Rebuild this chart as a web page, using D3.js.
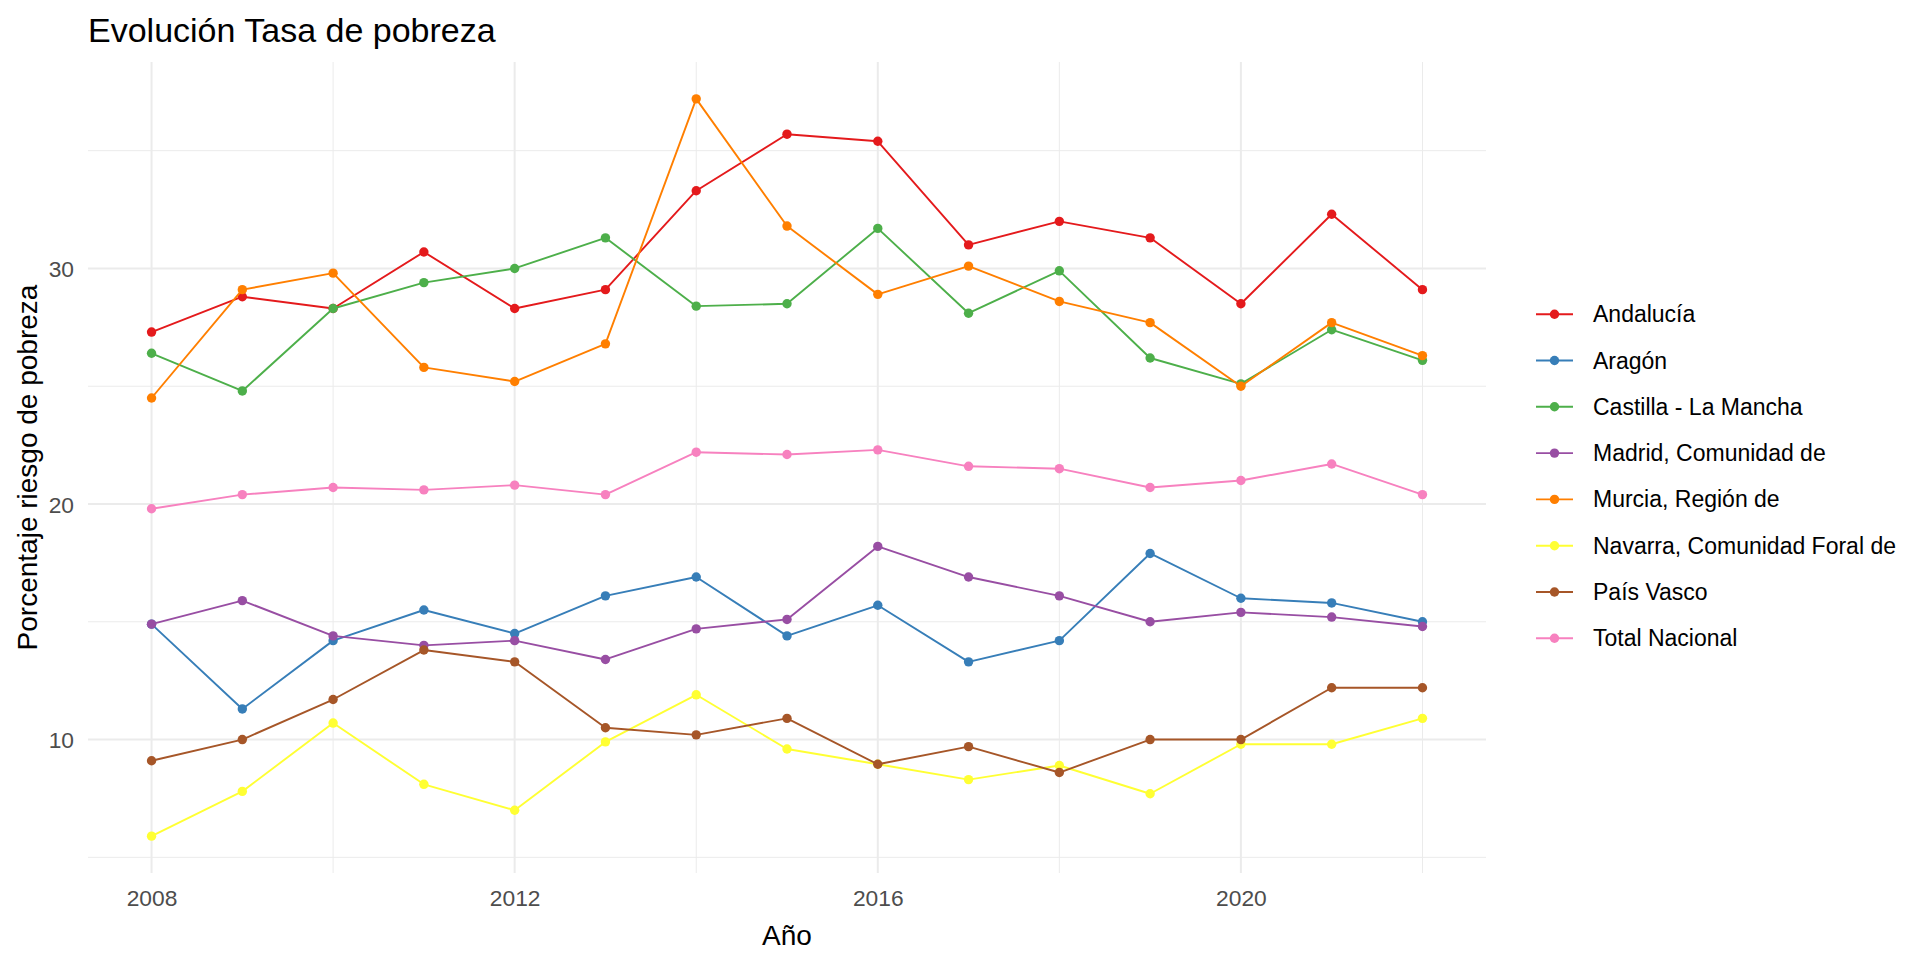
<!DOCTYPE html>
<html>
<head>
<meta charset="utf-8">
<script src="https://cdn.jsdelivr.net/npm/d3@7/dist/d3.min.js"></script>
<style>
  html, body { margin: 0; padding: 0; background: #ffffff; }
  svg { display: block; font-family: "Liberation Sans", Arial, sans-serif; }
</style>
</head>
<body>
<svg id="chart" width="1920" height="960"></svg>
<script>
const years = [2008,2009,2010,2011,2012,2013,2014,2015,2016,2017,2018,2019,2020,2021,2022];
const seriesNames = ["Andalucía","Aragón","Castilla - La Mancha","Madrid, Comunidad de","Murcia, Región de","Navarra, Comunidad Foral de","País Vasco","Total Nacional"];
const andalucia = [27.3,28.8,28.3,30.7,28.3,29.1,33.3,35.7,35.4,31.0,32.0,31.3,28.5,32.3,29.1];
const aragon    = [14.9,11.3,14.2,15.5,14.5,16.1,16.9,14.4,15.7,13.3,14.2,17.9,16.0,15.8,15.0];
const castilla  = [26.4,24.8,28.3,29.4,30.0,31.3,28.4,28.5,31.7,28.1,29.9,26.2,25.1,27.4,26.1];
const madrid    = [14.9,15.9,14.4,14.0,14.2,13.4,14.7,15.1,18.2,16.9,16.1,15.0,15.4,15.2,14.8];
const murcia    = [24.5,29.1,29.8,25.8,25.2,26.8,37.2,31.8,28.9,30.1,28.6,27.7,25.0,27.7,26.3];
const navarra   = [5.9,7.8,10.7,8.1,7.0,9.9,11.9,9.6,8.95,8.3,8.9,7.7,9.8,9.8,10.9];
const paisVasco = [9.1,10.0,11.7,13.8,13.3,10.5,10.2,10.9,8.95,9.7,8.6,10.0,10.0,12.2,12.2];
const total     = [19.8,20.4,20.7,20.6,20.8,20.4,22.2,22.1,22.3,21.6,21.5,20.7,21.0,21.7,20.4];
const seriesValues = [andalucia, aragon, castilla, madrid, murcia, navarra, paisVasco, total];
const colors = ["#E41A1C","#377EB8","#4DAF4A","#984EA3","#FF7F00","#FFFF33","#A65628","#F781BF"];
const xTicks = [2008, 2012, 2016, 2020];
const xMinor = [2010, 2014, 2018, 2022];
const yTicks = [10, 20, 30];
const yMinor = [5, 15, 25, 35];

const svg = d3.select("#chart");
const panel = {left: 88, right: 1486, top: 62, bottom: 873};

const xExt = d3.extent(years);
const xPad = (xExt[1] - xExt[0]) * 0.05;
const x = d3.scaleLinear().domain([xExt[0] - xPad, xExt[1] + xPad]).range([panel.left, panel.right]);
const allVals = seriesValues.flat();
const yExt = d3.extent(allVals);
const yPad = (yExt[1] - yExt[0]) * 0.05;
const y = d3.scaleLinear().domain([yExt[0] - yPad, yExt[1] + yPad]).range([panel.bottom, panel.top]);

const grid = svg.append("g");
grid.selectAll(".ym").data(yMinor).join("line")
  .attr("x1", panel.left).attr("x2", panel.right)
  .attr("y1", d => y(d)).attr("y2", d => y(d))
  .attr("stroke", "#EBEBEB").attr("stroke-width", 1);
grid.selectAll(".xm").data(xMinor).join("line")
  .attr("y1", panel.top).attr("y2", panel.bottom)
  .attr("x1", d => x(d)).attr("x2", d => x(d))
  .attr("stroke", "#EBEBEB").attr("stroke-width", 1);
grid.selectAll(".yM").data(yTicks).join("line")
  .attr("x1", panel.left).attr("x2", panel.right)
  .attr("y1", d => y(d)).attr("y2", d => y(d))
  .attr("stroke", "#EBEBEB").attr("stroke-width", 2);
grid.selectAll(".xM").data(xTicks).join("line")
  .attr("y1", panel.top).attr("y2", panel.bottom)
  .attr("x1", d => x(d)).attr("x2", d => x(d))
  .attr("stroke", "#EBEBEB").attr("stroke-width", 2);

const xAxis = svg.append("g").attr("transform", `translate(0,${panel.bottom})`)
  .call(d3.axisBottom(x).tickValues(xTicks).tickFormat(d3.format("d")).tickSize(0).tickPadding(0));
xAxis.select(".domain").remove();
xAxis.selectAll("text").attr("y", 33).attr("dy", null)
  .attr("fill", "#4D4D4D").style("font-size", "22.8px").style("font-family", "'Liberation Sans', Arial, sans-serif");

const yAxis = svg.append("g").attr("transform", `translate(${panel.left},0)`)
  .call(d3.axisLeft(y).tickValues(yTicks).tickFormat(d3.format("d")).tickSize(0).tickPadding(14));
yAxis.select(".domain").remove();
yAxis.selectAll("text").attr("dy", "0.36em")
  .attr("fill", "#4D4D4D").style("font-size", "22.8px").style("font-family", "'Liberation Sans', Arial, sans-serif");

const line = d3.line().x((d, i) => x(years[i])).y(d => y(d));
const series = svg.append("g").selectAll("g").data(seriesValues).join("g");
series.append("path")
  .attr("d", d => line(d))
  .attr("fill", "none")
  .attr("stroke", (d, i) => colors[i])
  .attr("stroke-width", 1.9)
  .attr("stroke-linejoin", "round");
series.each(function(vals, si) {
  d3.select(this).selectAll("circle").data(vals).join("circle")
    .attr("cx", (d, i) => x(years[i]))
    .attr("cy", d => y(d))
    .attr("r", 4.7)
    .attr("fill", colors[si]);
});

svg.append("text").attr("x", 88).attr("y", 42)
  .style("font-size", "34px").attr("fill", "#000").text("Evolución Tasa de pobreza");
svg.append("text").attr("x", (panel.left + panel.right) / 2).attr("y", 945)
  .attr("text-anchor", "middle").style("font-size", "28px").attr("fill", "#000").text("Año");
svg.append("text")
  .attr("transform", `translate(37,${(panel.top + panel.bottom) / 2}) rotate(-90)`)
  .attr("text-anchor", "middle").style("font-size", "28px").attr("fill", "#000")
  .text("Porcentaje riesgo de pobreza");

const legend = svg.append("g");
const rows = legend.selectAll("g").data(seriesNames).join("g")
  .attr("transform", (d, i) => `translate(0,${314.2 + i * 46.3})`);
rows.append("line").attr("x1", 1536).attr("x2", 1573).attr("y1", 0).attr("y2", 0)
  .attr("stroke", (d, i) => colors[i]).attr("stroke-width", 1.9);
rows.append("circle").attr("cx", 1554.5).attr("cy", 0).attr("r", 4.7)
  .attr("fill", (d, i) => colors[i]);
rows.append("text").attr("x", 1593).attr("y", 8)
  .style("font-size", "23px").attr("fill", "#000").text(d => d);
</script>
</body>
</html>
